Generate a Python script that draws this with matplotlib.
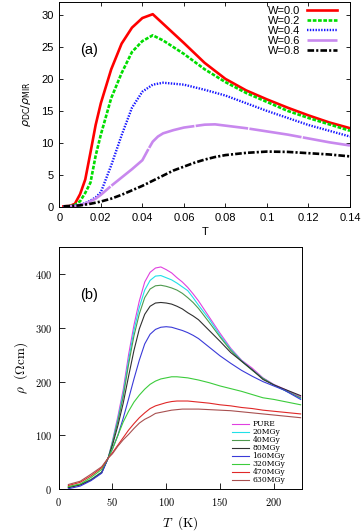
import numpy as np
import matplotlib
matplotlib.use("Agg")
from matplotlib import pyplot as plt
from matplotlib.ticker import FuncFormatter

# (a) rho_DC / rho_MIR versus T
T_a = [0.002, 0.005, 0.0075, 0.01, 0.0125, 0.015, 0.0175, 0.02, 0.025, 0.03,
       0.035, 0.04, 0.045, 0.05, 0.06, 0.07, 0.08, 0.09, 0.1, 0.11, 0.12,
       0.13, 0.14]
w00 = [0.1, 0.15, 0.5, 2.0, 4.3, 8.5, 12.8, 16.2, 21.5, 25.5,
       28.0, 29.5, 30.1, 28.6, 25.6, 22.5, 20.0, 18.2, 16.8, 15.5, 14.3,
       13.2, 12.3]
w02 = [0.1, 0.12, 0.3, 0.9, 2.2, 3.8, 8.0, 11.3, 17.0, 20.9,
       24.2, 25.9, 26.8, 26.0, 23.9, 21.5, 19.5, 17.8, 16.4, 15.0, 13.9,
       12.9, 11.9]
w04 = [0.1, 0.15, 0.2, 0.35, 0.6, 1.0, 1.5, 2.3, 6.5, 11.2,
       15.5, 18.0, 19.1, 19.4, 19.1, 18.3, 17.4, 16.2, 15.0, 13.9, 12.8,
       11.9, 11.0]
T_a6 = [0.002, 0.005, 0.0075, 0.01, 0.0125, 0.015, 0.0175, 0.02, 0.025, 0.03,
        0.035, 0.04, 0.0425, 0.045, 0.0475, 0.05, 0.055, 0.06, 0.07, 0.075,
        0.08, 0.09, 0.1, 0.11, 0.12, 0.13, 0.14]
w06 = [0.1, 0.1, 0.15, 0.3, 0.5, 0.9, 1.3, 1.9, 3.3, 4.6,
       5.9, 7.3, 8.8, 10.2, 11.0, 11.5, 12.0, 12.4, 12.85, 12.9,
       12.7, 12.3, 11.8, 11.3, 10.7, 10.1, 9.6]
T_a8 = [0.002, 0.005, 0.01, 0.015, 0.02, 0.025, 0.03, 0.035, 0.04, 0.045,
        0.05, 0.055, 0.06, 0.065, 0.07, 0.075, 0.08, 0.09, 0.1, 0.11, 0.12,
        0.13, 0.14]
w08 = [0.1, 0.15, 0.25, 0.5, 0.85, 1.3, 1.9, 2.6, 3.3, 4.1,
       4.9, 5.7, 6.3, 6.9, 7.4, 7.8, 8.1, 8.45, 8.65, 8.6, 8.4,
       8.2, 7.9]

# (b) rho (Ohm cm) versus T (K)
T_b = [9, 20, 30, 40, 46, 50, 55, 60, 65, 70, 75, 80, 85, 90, 95, 100, 105,
       110, 115, 120, 125, 130, 140, 150, 160, 170, 180, 190, 200, 210, 225]
pure = [4, 9, 18, 32, 58, 90, 135, 185, 250, 305, 350, 385, 403, 411, 413,
        408, 402, 393, 385, 375, 363, 350, 320, 290, 262, 240, 225, 207, 195,
        186, 172]
mgy20 = [4, 9, 18, 32, 58, 88, 130, 178, 240, 295, 338, 370, 388, 396, 397,
         393, 389, 383, 376, 369, 356, 342, 316, 286, 260, 239, 222, 206, 194,
         184, 169]
mgy40 = [4, 9, 18, 32, 58, 86, 126, 172, 232, 285, 326, 356, 372, 378, 379,
         377, 374, 370, 364, 356, 347, 336, 310, 283, 258, 238, 221, 206, 194,
         184, 170]
mgy80 = [3, 8, 17, 31, 58, 82, 118, 160, 210, 258, 298, 325, 340, 346, 347,
         346, 344, 340, 335, 328, 322, 315, 295, 275, 254, 238, 222, 204, 194,
         186, 174]
mgy160 = [1, 6, 16, 30, 58, 75, 100, 132, 168, 205, 240, 270, 288, 297, 301,
          302, 301, 298, 295, 291, 286, 280, 264, 248, 234, 221, 210, 200, 192,
          184, 167]
mgy320 = [5, 10, 22, 37, 58, 75, 100, 125, 145, 162, 175, 186, 195, 201, 205,
          207, 209, 209, 208, 207, 205, 203, 198, 192, 187, 182, 176, 170, 167,
          163, 157]
mgy470 = [7, 13, 25, 40, 58, 68, 82, 96, 110, 122, 133, 142, 150, 155, 158,
          161, 163, 164, 164, 164, 163, 162, 160, 157, 155, 152, 150, 147, 145,
          143, 140]
mgy630 = [9, 15, 28, 42, 58, 66, 80, 92, 102, 113, 123, 130, 135, 141, 143,
          145, 147, 148, 149, 149, 149, 149, 148, 147, 146, 144, 142, 140, 138,
          136, 133]
labels_b = ["PURE", "20MGy", "40MGy", "80MGy", "160MGy", "320MGy", "470MGy",
            "630MGy"]
colors_b = ["#e040e0", "#20e0e8", "#4f9a4f", "#303030", "#3a3ad8",
            "#3ccc3c", "#e02828", "#a85050"]

plt.rcParams['mathtext.fontset'] = 'cm'

fig = plt.figure(figsize=(3.61, 5.31), dpi=100)

# ---- パネル (a) ----
ax1 = fig.add_axes([0.1643, 0.6102, 0.8052, 0.386])
sans = 'Liberation Sans'
ax1.plot(T_a, w00, color='#ff0000', lw=1.9, label='W=0.0')
ax1.plot(T_a, w02, color='#00dd00', lw=1.9, ls=(0, (1.4, 0.6)), label='W=0.2')
ax1.plot(T_a, w04, color='#1818ff', lw=1.7, ls=(0, (0.6, 0.6)), label='W=0.4')
ax1.plot(T_a6, w06, color='#c888ee', lw=1.9, ls=(0, (20, 0.5)), label='W=0.6')
ax1.plot(T_a8, w08, color='#000000', lw=1.9, ls=(0, (2.5, 0.8, 0.8, 0.8)),
         label='W=0.8')
ax1.set_xlim(0, 0.14)
ax1.set_ylim(0, 32)
ax1.set_xticks(np.arange(0, 0.141, 0.02))
ax1.set_yticks(np.arange(0, 31, 5))
ax1.xaxis.set_major_formatter(FuncFormatter(lambda v, p: '%g' % round(v, 3)))
ax1.tick_params(direction='in', top=True, right=True, length=3, width=0.6,
                labelsize=8, pad=4)
for lab in ax1.get_xticklabels() + ax1.get_yticklabels():
    lab.set_family(sans)
for s in ax1.spines.values():
    s.set_linewidth(0.7)
ax1.set_xlabel('T', fontsize=8, family=sans, labelpad=3)
ax1.set_ylabel(r'$\rho_{\mathrm{DC}}/\rho_{\mathrm{MIR}}$', fontsize=8,
               math_fontfamily='dejavusans', labelpad=6)
ax1.text(0.010, 24.5, '(a)', fontsize=10.5, family=sans, va='center')
ax1.legend(loc='upper right', bbox_to_anchor=(0.955, 0.983),
           frameon=False, markerfirst=False, borderpad=0,
           borderaxespad=0, labelspacing=0.0, handlelength=2.7,
           handletextpad=0.6, prop={'family': sans, 'size': 8})

# ---- パネル (b) ----
ax2 = fig.add_axes([0.1626, 0.0785, 0.6731, 0.4563])
series_b = [pure, mgy20, mgy40, mgy80, mgy160, mgy320, mgy470, mgy630]
for vals, lab, c in zip(series_b, labels_b, colors_b):
    ax2.plot(T_b, vals, color=c, lw=0.8, label=lab)
ax2.set_xlim(0, 226)
ax2.set_ylim(0, 450)
ax2.set_xticks([0, 50, 100, 150, 200])
ax2.set_yticks([0, 100, 200, 300, 400])
ax2.xaxis.set_major_formatter(FuncFormatter(lambda v, p: r'$%d$' % v))
ax2.yaxis.set_major_formatter(FuncFormatter(lambda v, p: r'$%d$' % v))
ax2.tick_params(direction='in', length=4, width=0.6, labelsize=7.5, pad=5)
for s in ax2.spines.values():
    s.set_linewidth(0.7)
ax2.set_xlabel(r'$T\ \ (\mathrm{K})$', fontsize=9.5, labelpad=4)
ax2.set_ylabel(r'$\rho\ \ (\Omega\mathrm{cm})$', fontsize=9.5, labelpad=3)
ax2.text(20, 361, '(b)', fontsize=10.5, family=sans, va='center')
ax2.legend(loc='lower left', bbox_to_anchor=(0.713, 0.02), frameon=False,
           borderpad=0, borderaxespad=0, labelspacing=0.0, handlelength=2.2,
           handletextpad=0.5, prop={'family': 'DejaVu Serif', 'size': 5.5})

fig.savefig('out.png', dpi=100)
